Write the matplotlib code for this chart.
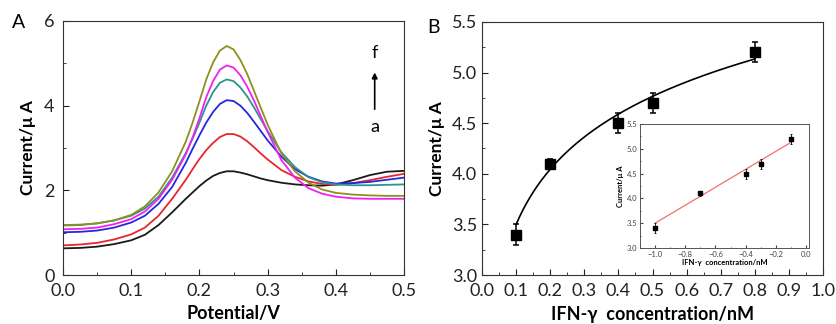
import numpy as np
import matplotlib.pyplot as plt
from matplotlib.ticker import MultipleLocator

plt.rcParams['font.family'] = ['Lato', 'DejaVu Sans']

# Panel A: DPV curves a-f
potential = [0.000, 0.025, 0.050, 0.075, 0.10, 0.12, 0.14, 0.16, 0.18, 0.19,
             0.20, 0.21, 0.22, 0.23, 0.24, 0.25, 0.26, 0.27, 0.28, 0.29,
             0.30, 0.32, 0.34, 0.36, 0.38, 0.40, 0.425, 0.45, 0.475, 0.50]
curve_a = [0.63, 0.64, 0.67, 0.73, 0.82, 0.95, 1.18, 1.48, 1.80, 1.95,
           2.10, 2.23, 2.34, 2.41, 2.45, 2.45, 2.42, 2.38, 2.33, 2.28,
           2.24, 2.18, 2.14, 2.12, 2.11, 2.14, 2.24, 2.36, 2.44, 2.46]
curve_b = [0.70, 0.72, 0.76, 0.84, 0.96, 1.12, 1.40, 1.80, 2.25, 2.50,
           2.74, 2.95, 3.12, 3.26, 3.33, 3.33, 3.27, 3.16, 3.02, 2.87,
           2.73, 2.48, 2.32, 2.21, 2.15, 2.13, 2.17, 2.24, 2.32, 2.39]
curve_c = [1.01, 1.02, 1.05, 1.12, 1.24, 1.40, 1.68, 2.08, 2.65, 2.98,
           3.30, 3.60, 3.85, 4.04, 4.13, 4.11, 4.00, 3.83, 3.62, 3.40,
           3.18, 2.80, 2.50, 2.32, 2.21, 2.16, 2.17, 2.20, 2.25, 2.30]
curve_d = [1.17, 1.18, 1.22, 1.29, 1.40, 1.57, 1.85, 2.30, 2.88, 3.22,
           3.60, 4.00, 4.32, 4.54, 4.62, 4.58, 4.43, 4.22, 3.96, 3.68,
           3.40, 2.90, 2.55, 2.31, 2.19, 2.14, 2.12, 2.12, 2.13, 2.14]
curve_e = [1.08, 1.09, 1.12, 1.20, 1.32, 1.50, 1.80, 2.25, 2.85, 3.25,
           3.70, 4.20, 4.58, 4.85, 4.95, 4.90, 4.72, 4.45, 4.12, 3.75,
           3.38, 2.72, 2.30, 2.05, 1.92, 1.85, 1.81, 1.80, 1.80, 1.80]
curve_f = [1.18, 1.19, 1.22, 1.29, 1.42, 1.62, 1.95, 2.45, 3.15, 3.60,
           4.10, 4.62, 5.02, 5.30, 5.41, 5.33, 5.08, 4.75, 4.35, 3.95,
           3.55, 2.88, 2.45, 2.18, 2.02, 1.94, 1.90, 1.88, 1.87, 1.87]
curves = [curve_a, curve_b, curve_c, curve_d, curve_e, curve_f]
colors = ['#1a1a1a', '#e8262c', '#2626e0', '#2a9490', '#f020f0', '#8f8f1e']

# Panel B: calibration
conc = [0.1, 0.2, 0.4, 0.5, 0.8]
current = [3.4, 4.1, 4.5, 4.7, 5.2]
err = [0.1, 0.05, 0.1, 0.1, 0.1]
log_conc = [-1.0, -0.7, -0.4, -0.3, -0.1]
fit_slope = 1.81
fit_intercept = 5.31

fig = plt.figure(figsize=(8.37, 3.24), dpi=100)

# ---- A
axA = fig.add_axes([0.0753, 0.1512, 0.4074, 0.784])
for c, col in zip(curves, colors):
    axA.plot(potential, c, color=col, lw=1.3)
axA.set_xlim(0, 0.5)
axA.set_ylim(0, 6)
axA.xaxis.set_major_locator(MultipleLocator(0.1))
axA.xaxis.set_minor_locator(MultipleLocator(0.05))
axA.yaxis.set_major_locator(MultipleLocator(2))
axA.yaxis.set_minor_locator(MultipleLocator(1))
axA.tick_params(which='both', direction='in', labelsize=13, colors='#222222')
axA.tick_params(axis='x', pad=6)
axA.tick_params(axis='y', pad=6)
axA.tick_params(which='major', length=4)
axA.tick_params(which='minor', length=2.5)
axA.set_xlabel('Potential/V', fontsize=13, fontweight='bold', labelpad=4)
axA.set_ylabel('Current/μ A', fontsize=12.5, fontweight='bold', labelpad=6)
axA.annotate('', xy=(0.457, 4.85), xytext=(0.457, 3.85),
             arrowprops=dict(arrowstyle='-|>', color='black', lw=1.2, mutation_scale=8))
axA.text(0.457, 5.24, 'f', ha='center', va='center', fontsize=13)
axA.text(0.457, 3.5, 'a', ha='center', va='center', fontsize=13)
for s in axA.spines.values():
    s.set_color('#333333')
fig.text(0.014, 0.93, 'A', fontsize=14, va='center')

# ---- B
axB = fig.add_axes([0.5759, 0.1512, 0.4074, 0.781])
xs = np.linspace(conc[0], conc[-1], 200)
axB.plot(xs, fit_intercept + fit_slope * np.log10(xs), color='black', lw=1.2)
axB.errorbar(conc, current, yerr=err, fmt='s', color='black', markersize=6.5,
             capsize=2.5, elinewidth=1.1, capthick=1.1)
axB.set_xlim(0, 1.0)
axB.set_ylim(3.0, 5.5)
axB.xaxis.set_major_locator(MultipleLocator(0.1))
axB.xaxis.set_minor_locator(MultipleLocator(0.05))
axB.yaxis.set_major_locator(MultipleLocator(0.5))
axB.yaxis.set_minor_locator(MultipleLocator(0.25))
axB.tick_params(which='both', direction='in', labelsize=13, colors='#222222')
axB.tick_params(axis='x', pad=6)
axB.tick_params(which='major', length=4)
axB.tick_params(which='minor', length=2.5)
axB.set_xlabel('IFN-γ  concentration/nM', fontsize=13, fontweight='bold', labelpad=5)
axB.set_ylabel('Current/μ A', fontsize=12.5, fontweight='bold', labelpad=5)
for s in axB.spines.values():
    s.set_color('#333333')
fig.text(0.511, 0.914, 'B', fontsize=14, va='center')

# ---- inset
axI = fig.add_axes([0.7646, 0.2346, 0.2019, 0.3827])
lx = np.array([log_conc[0], log_conc[-1]])
axI.plot(lx, fit_intercept + fit_slope * lx, color='#f07070', lw=0.9)
axI.errorbar(log_conc, current, yerr=err, fmt='s', color='black', markersize=2.5,
             capsize=1, elinewidth=0.6, capthick=0.6)
axI.set_xlim(-1.1, 0.02)
axI.set_ylim(3.0, 5.5)
axI.xaxis.set_major_locator(MultipleLocator(0.2))
axI.xaxis.set_minor_locator(MultipleLocator(0.1))
axI.yaxis.set_major_locator(MultipleLocator(0.5))
axI.yaxis.set_minor_locator(MultipleLocator(0.25))
axI.tick_params(which='both', direction='in', labelsize=5.5, colors='#444444', pad=2)
axI.tick_params(which='major', length=2)
axI.tick_params(which='minor', length=1)
axI.set_xlabel('IFN-γ  concentration/nM', fontsize=5.5, fontweight='bold', labelpad=1)
axI.set_ylabel('Current/μ A', fontsize=5.5, fontweight='bold', labelpad=2)
for s in axI.spines.values():
    s.set_color('#555555')
    s.set_linewidth(0.7)

fig.savefig('out.png', dpi=100)
